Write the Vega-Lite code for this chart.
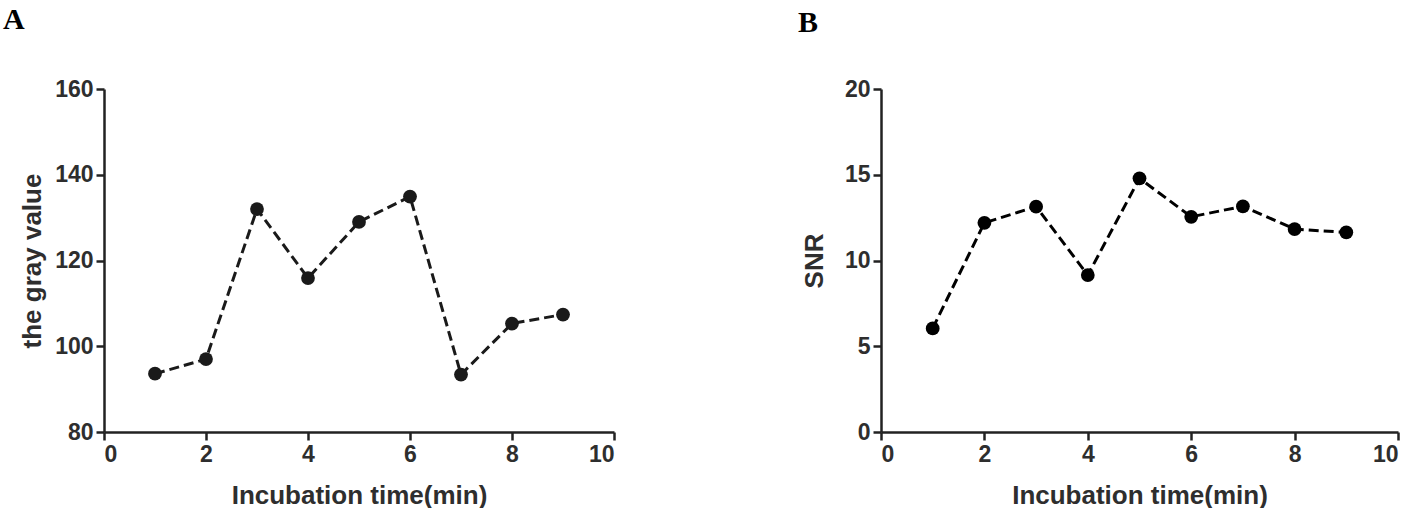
{
  "$schema": "https://vega.github.io/schema/vega-lite/v6.json",
  "padding": {"left": 3, "top": 5, "right": 0, "bottom": 0},
  "background": "white",
  "bounds": "flush",
  "spacing": 267,
  "config": {
    "view": {"stroke": null},
    "axis": {
      "grid": false,
      "domainColor": "#222",
      "domainWidth": 2.5,
      "tickColor": "#222",
      "tickWidth": 2.5,
      "tickSize": 8,
      "labelFont": "Liberation Sans",
      "labelFontWeight": "bold",
      "labelFontSize": 23,
      "labelColor": "#2e2e2e",
      "labelPadding": 3,
      "titleFont": "Liberation Sans",
      "titleFontWeight": "bold",
      "titleFontSize": 26,
      "titleColor": "#2e2e2e"
    },
    "title": {
      "font": "Liberation Serif",
      "fontWeight": "bold",
      "fontSize": 30,
      "color": "#000",
      "anchor": "start",
      "frame": "group",
      "baseline": "alphabetic"
    }
  },
  "datasets": {
    "gray": [
      {"t": 1, "v": 93.6},
      {"t": 2, "v": 97.0},
      {"t": 3, "v": 132.0},
      {"t": 4, "v": 115.9},
      {"t": 5, "v": 129.0},
      {"t": 6, "v": 134.9},
      {"t": 7, "v": 93.4},
      {"t": 8, "v": 105.3},
      {"t": 9, "v": 107.4}
    ],
    "snr": [
      {"t": 1, "v": 6.04},
      {"t": 2, "v": 12.2},
      {"t": 3, "v": 13.14},
      {"t": 4, "v": 9.15},
      {"t": 5, "v": 14.79},
      {"t": 6, "v": 12.55},
      {"t": 7, "v": 13.16},
      {"t": 8, "v": 11.83},
      {"t": 9, "v": 11.64}
    ]
  },
  "hconcat": [
    {
      "width": 510,
      "height": 343,
      "title": {"text": "A", "dx": -101, "offset": 43},
      "data": {"name": "gray"},
      "encoding": {
        "x": {"field": "t", "type": "quantitative", "scale": {"domain": [0, 10], "nice": false}, "axis": {"values": [0, 2, 4, 6, 8, 10], "title": "Incubation time(min)", "titlePadding": 16}},
        "y": {"field": "v", "type": "quantitative", "scale": {"domain": [80, 160], "nice": false, "zero": false}, "axis": {"values": [80, 100, 120, 140, 160], "title": "the gray value", "titlePadding": 9}}
      },
      "layer": [
        {"mark": {"type": "line", "color": "#1a1a1a", "strokeWidth": 3, "strokeDash": [10, 5]}},
        {"mark": {"type": "point", "filled": true, "color": "#1a1a1a", "opacity": 1, "size": 190}}
      ]
    },
    {
      "width": 517,
      "height": 343,
      "title": {"text": "B", "dx": -83, "offset": 40},
      "data": {"name": "snr"},
      "encoding": {
        "x": {"field": "t", "type": "quantitative", "scale": {"domain": [0, 10], "nice": false}, "axis": {"values": [0, 2, 4, 6, 8, 10], "title": "Incubation time(min)", "titlePadding": 16}},
        "y": {"field": "v", "type": "quantitative", "scale": {"domain": [0, 20], "nice": false}, "axis": {"values": [0, 5, 10, 15, 20], "title": "SNR", "titlePadding": 17}}
      },
      "layer": [
        {"mark": {"type": "line", "color": "#000", "strokeWidth": 3, "strokeDash": [10, 5]}},
        {"mark": {"type": "point", "filled": true, "color": "#000", "opacity": 1, "size": 190}}
      ]
    }
  ]
}
